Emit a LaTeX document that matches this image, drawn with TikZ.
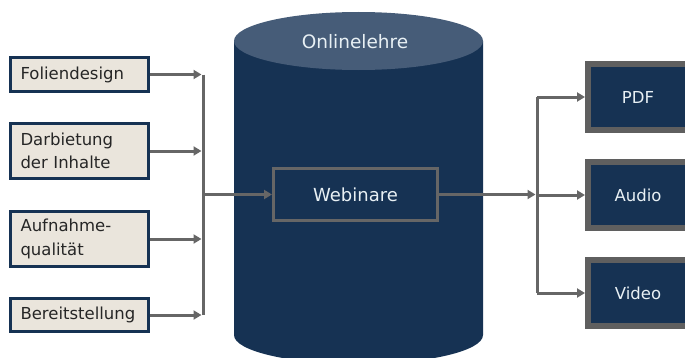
\documentclass[tikz,border=0pt]{standalone}
\usepackage{fontspec}
\setmainfont{DejaVu Sans}
\usetikzlibrary{arrows.meta}
\definecolor{navy}{HTML}{163253}
\definecolor{navytop}{HTML}{465C78}
\definecolor{beige}{HTML}{EAE5DC}
\definecolor{conn}{HTML}{666666}
\definecolor{outborder}{HTML}{5F5F5F}
\definecolor{lighttext}{HTML}{E8F0F4}
\tikzset{
  inbox/.style={draw=navy, line width=3pt, fill=beige, minimum width=138pt,
    text width=118pt, align=left, inner xsep=9pt, inner ysep=0pt,
    font=\fontsize{16.5pt}{23.5pt}\selectfont, text=black!85},
  outbox/.style={draw=outborder, line width=6pt, fill=navy, minimum width=100pt,
    minimum height=66pt, inner sep=0pt, text=lighttext,
    font=\fontsize{16.5pt}{19pt}\selectfont},
  webbox/.style={draw=conn, line width=3pt, fill=navy, minimum width=164pt,
    minimum height=52pt, inner sep=0pt, text=lighttext,
    font=\fontsize{18pt}{21pt}\selectfont},
  conline/.style={draw=conn, line width=3pt},
  conarrow/.style={conline, -{Triangle[length=8pt,width=9pt]}},
}
\begin{document}
\begin{tikzpicture}[x=1pt,y=1pt]
\useasboundingbox (0,0) rectangle (685,357);
\clip (0,0) rectangle (685,357);
% cylinder
\fill[navy] (234,316) -- (234,22) arc[start angle=180,end angle=360,x radius=124.5,y radius=29] -- (483,316) -- cycle;
\fill[navytop] (358.5,316) ellipse [x radius=124.5, y radius=29];
\node[text=lighttext, font=\fontsize{18.5pt}{21pt}\selectfont] (onl) at (355,315) {Onlinelehre};
% left boxes
\node[inbox, minimum height=34pt] (fol) at (79.5,282.5) {Foliendesign};
\node[inbox, minimum height=55pt] (dar) at (79.5,206) {Darbietung\\der Inhalte};
\node[inbox, minimum height=55pt] (auf) at (79.5,118) {Aufnahme-\\qualität};
\node[inbox, minimum height=33pt] (ber) at (79.5,42) {Bereitstellung};
% center
\node[webbox] (web) at (355.5,162.5) {Webinare};
% right boxes
\node[outbox] (pdf) at (638,260) {PDF};
\node[outbox] (aud) at (638,162) {Audio};
\node[outbox] (vid) at (638,64) {Video};
% left bus
\coordinate (lbus) at (203,162.5);
\coordinate (ltop) at (lbus |- fol.east);
\coordinate (lbot) at (lbus |- ber.east);
\draw[conline] (ltop) -- (lbot);
\foreach \n in {fol,dar,auf,ber}{
  \draw[conarrow] (\n.east) -- ([xshift=-1.5pt]lbus |- \n.east);
}
\draw[conarrow] (lbus) -- (web.west);
% right bus
\coordinate (rbus) at (537,162.5);
\coordinate (rtop) at (rbus |- pdf.west);
\coordinate (rbot) at (rbus |- vid.west);
\draw[conarrow] (web.east) -- ([xshift=-1.5pt]rbus);
\draw[conline] (rtop) -- (rbot);
\foreach \n in {pdf,aud,vid}{
  \draw[conarrow] (rbus |- \n.west) -- (\n.west);
}
\end{tikzpicture}
\end{document}
